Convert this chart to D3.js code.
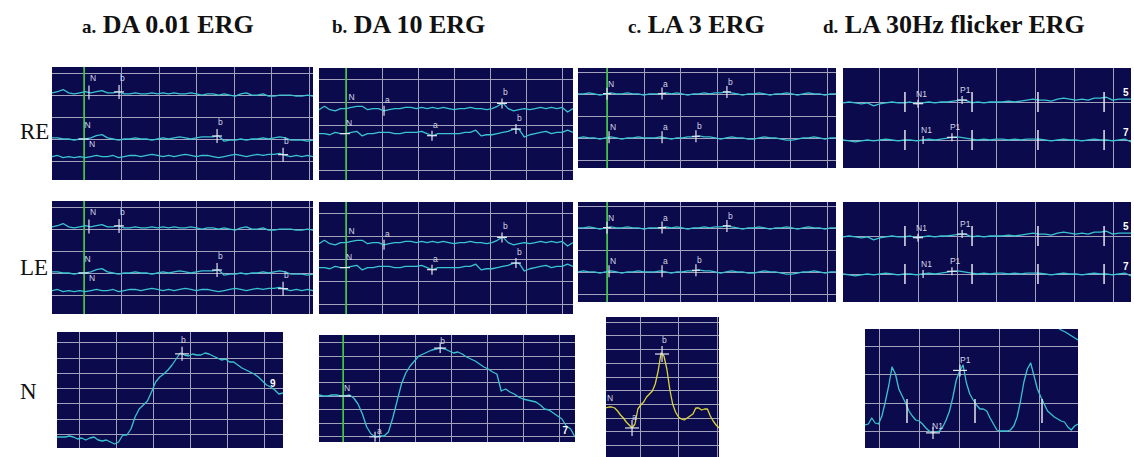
<!DOCTYPE html>
<html>
<head>
<meta charset="utf-8">
<script src="https://cdn.jsdelivr.net/npm/d3@7"></script>
<style>
  body { margin: 0; background: #fff; }
  svg { display: block; }
</style>
</head>
<body>
<svg id="fig" width="1134" height="457"></svg>
<script>
// ---------------- data ----------------
const panelTitles = [
  { tag: 'a.', name: 'DA 0.01 ERG' },
  { tag: 'b.', name: 'DA 10 ERG' },
  { tag: 'c.', name: 'LA 3 ERG' },
  { tag: 'd.', name: 'LA 30Hz flicker ERG' }
];
const rowLabels = ['RE', 'LE', 'N'];

// a. DA 0.01 ERG, three sweeps (baseline µV + deviation µV)
const daDimBase = [62, 20, 4];
const daDimTop = [0,1,3,0,-1,0,1,0,1,2,0,0,1,-1,-1,0,-1,-1,0,-1,0,-1,0,-1,-1,0,-1,-2,-1,-1,-2,-1,-2,-3,-1,0,-2,-2,-1,-3,-3,-2,-2,-2,-3,-3,-2,-3];
const daDimMid = [1,1,0,0,-1,0,0,1,3,4,1,0,-1,0,0,1,0,0,-1,0,1,0,1,2,1,0,1,2,2,2,3,-2,-1,-1,0,-1,0,0,1,0,1,2,1,-1,-1,-1,-2,-1];
const daDimLow = [0,1,-1,0,-1,0,-1,0,1,0,0,1,-1,0,1,1,0,1,2,1,0,1,0,1,2,1,0,1,1,0,-1,0,1,2,1,0,1,2,1,2,2,3,1,0,1,0,1,0];

// b. DA 10 ERG, two sweeps
const daBrightBase = [54, 32];
const daBrightTop = [-1,2,-1,-2,0,0,1,2,2,-1,0,0,-2,-1,0,0,1,1,0,1,0,1,0,1,0,-1,0,0,1,0,0,-1,0,2,5,0,-2,-1,0,-1,0,1,0,1,0,1,-3,0];
const daBrightLow = [0,0,-1,1,0,0,1,2,-2,0,0,1,1,1,0,0,1,1,1,2,0,-2,0,0,0,0,0,1,1,3,-2,-1,-1,0,1,2,4,4,-3,-1,0,1,2,0,1,1,3,1];

// c. LA 3 ERG, two sweeps
const la3Base = [60, 20];
const la3Top = [0,0,1,0,-1,0,1,0,0,1,0,0,-1,0,0,0,1,0,1,0,-1,0,0,1,0,1,1,2,1,0,-1,0,0,1,0,-1,0,0,1,0,-1,0,1,0,0,-1,0,0];
const la3Low = [0,1,0,0,-1,0,1,0,-1,0,0,1,0,0,0,1,0,-1,0,0,1,1,2,1,1,0,-1,0,1,0,0,-1,-1,0,1,0,0,-1,-2,-2,-1,0,0,1,0,-1,0,0];

// d. LA 30Hz flicker, two sweeps
const flickerBase = [40, 0];
const flickerTop = [-1,0,-1,-2,-1,-4,-2,-1,0,-1,-1,0,-2,-1,0,-1,0,0,1,2,2,-1,0,-1,0,0,0,1,0,1,2,3,2,2,1,3,4,3,2,3,2,4,4,5,2,3,3,3];
const flickerLow = [0,-1,-2,-1,0,-1,0,1,0,-1,0,0,-1,0,1,0,1,2,3,3,2,1,0,1,0,1,1,0,1,0,1,1,1,0,-1,0,1,0,0,-1,0,1,0,0,-1,0,1,-2];
const flickerStimMs = [33.3, 67.7, 101.5, 135.4];

// normal reference traces (µV)
const normDaDim = [-3,-3,-3,-2,-3,-5,-4,-6,-4,-3,-6,-7,-6,-8,-10,-8,-1,-1,5,17,25,29,33,42,52,57,60,64,69,75,81,79,78,80,79,79,81,80,78,76,74,75,72,72,69,66,64,62,60,57,53,49,47,44,40,41];
const normDaBright = [41,40,40,41,41,40,40,41,38,32,22,9,2,-1,0,0,4,18,35,52,63,70,75,80,82,84,86,87,88,87,85,83,84,82,79,77,75,72,69,67,64,62,45,47,44,42,39,37,36,35,34,31,27,26,23,20,17,10,7,-1];
const normLa3 = [37,38,38,37,34,30,27,23,20,17,21,36,40,43,48,51,54,61,74,92,89,76,56,41,33,28,26,25,27,29,31,37,37,35,36,36,29,24,20,17];
const normFlicker = [6,7,13,8,7,15,29,45,64,57,42,35,28,20,15,11,10,7,3,0,-2,-1,0,4,11,20,34,51,60,66,48,37,31,26,22,22,20,13,7,1,0,0,0,1,5,14,30,49,62,68,55,42,34,27,20,17,14,12,10,9,4,1,5,7];
const normFlickerOther = [102, 99, 95, 91];
const normFlickerStimMs = [14, 48, 81.5];

// ---------------- style ----------------
const SANS = '"Liberation Sans", Arial, sans-serif';
const SERIF = '"Liberation Serif", "Times New Roman", serif';
const NAVY = '#0a0a4c';
const GRID = '#a2a2bc';
const CYAN = '#3ac4d0';
const YELLOW = '#dcd63a';
const GREEN = '#36c636';
const MARK = '#e4e4ee';

// ---------------- panels ----------------
function smallPanels(dy) {
  return [
    { box: [52, 67 + dy, 261, 113], xDom: [-21.4, 153], xGrid: [0, 25], yDom: [-17.3, 85.5], yGrid: [0, 20],
      green: 0, mark: [5, 7], lab: [1, -11],
      traces: [
        { base: daDimBase[0], values: daDimTop },
        { base: daDimBase[1], values: daDimMid },
        { base: daDimBase[2], values: daDimLow }
      ],
      marks: [
        { tr: 0, t: 3.3, kind: 'v', label: 'N' },
        { tr: 0, t: 23.4, kind: '+', label: 'b' },
        { tr: 1, t: -0.3, kind: 'h', label: 'N' },
        { tr: 1, t: 88.9, kind: '+', label: 'b' },
        { tr: 2, t: 2.7, kind: '', label: 'N', dy: -10 },
        { tr: 2, t: 133, kind: '+', label: 'b' }
      ] },
    { box: [319, 68 + dy, 254, 112], xDom: [-18.75, 157.6], xGrid: [0, 25], yDom: [-8.8, 89.7], yGrid: [0, 20],
      green: 0, mark: [5, 5], lab: [1, -8],
      traces: [
        { base: daBrightBase[0], values: daBrightTop },
        { base: daBrightBase[1], values: daBrightLow }
      ],
      marks: [
        { tr: 0, t: 1, kind: '', label: 'N' },
        { tr: 0, t: 26.4, kind: 'v', label: 'a' },
        { tr: 0, t: 108.3, kind: '+', label: 'b' },
        { tr: 1, t: -0.7, kind: 'h', label: 'N' },
        { tr: 1, t: 59.7, kind: '+', label: 'a' },
        { tr: 1, t: 118, kind: '+', label: 'b' }
      ] },
    { box: [578, 68 + dy, 258, 100], xDom: [-19.75, 156], xGrid: [0, 25], yDom: [-7.3, 83.6], yGrid: [0, 20],
      green: 0, mark: [4, 6], lab: [1, -7],
      traces: [
        { base: la3Base[0], values: la3Top },
        { base: la3Base[1], values: la3Low }
      ],
      marks: [
        { tr: 0, t: 0, kind: '+', label: 'N' },
        { tr: 0, t: 37.5, kind: '+', label: 'a' },
        { tr: 0, t: 81.7, kind: '+', label: 'b' },
        { tr: 1, t: 1.4, kind: 'v', label: 'N' },
        { tr: 1, t: 37.5, kind: 'v', label: 'a' },
        { tr: 1, t: 60.6, kind: '+', label: 'b' }
      ] },
    { box: [843, 68 + dy, 288, 100], xDom: [1.54, 149.2], xGrid: [0, 20], yDom: [-29.5, 75.8], yGrid: [0, 40],
      green: null, mark: [5, 4], lab: [-2, -7],
      traces: [
        { base: flickerBase[0], values: flickerTop },
        { base: flickerBase[1], values: flickerLow }
      ],
      stim: flickerStimMs.flatMap(t => [{ tr: 0, t, half: 10 }, { tr: 1, t, half: 10 }]),
      marks: [
        { tr: 0, t: 40, kind: '+', label: 'N1' },
        { tr: 0, t: 62.6, kind: '+', label: 'P1' },
        { tr: 1, t: 42.6, kind: 'v', label: 'N1' },
        { tr: 1, t: 57.4, kind: '+', label: 'P1' },
        { tr: 0, t: 146.5, kind: '', label: '5', bold: true, dx: 0, dy: -3 },
        { tr: 1, t: 146.5, kind: '', label: '7', bold: true, dx: 0, dy: -3 }
      ] }
  ];
}

const normPanels = [
  { box: [57, 332, 226, 116], xDom: [-14.9, 137.8], xGrid: [0, 25], yDom: [-14, 102], yGrid: [0, 15.3],
    green: null, mark: [7, 7], lab: [-1, -11],
    traces: [{ base: 0, values: normDaDim }],
    marks: [
      { tr: 0, t: 69.6, kind: '+', label: 'b' },
      { tr: 0, t: 133, kind: '', label: '9', bold: true, dx: -3, dy: -4 }
    ] },
  { box: [319, 335, 256, 107], xDom: [-16.7, 161], xGrid: [0, 25], yDom: [-6, 101], yGrid: [0, 13.4],
    green: 0, mark: [6, 5], lab: [0, -5],
    traces: [{ base: 0, values: normDaBright }],
    marks: [
      { tr: 0, t: 1.4, kind: 'h', label: 'N', dx: -1 },
      { tr: 0, t: 22.2, kind: '+', label: 'a', dx: 2, dy: -3 },
      { tr: 0, t: 67.4, kind: '+', label: 'b', dy: -4 },
      { tr: 0, t: 157, kind: '', label: '7', bold: true, dx: -4, dy: 6 }
    ] },
  { box: [606, 317, 113, 140], xDom: [-2.2, 71.6], xGrid: [20, 25], yDom: [-12, 128], yGrid: [0, 13.7],
    green: null, mark: [7, 8], lab: [0, -8], color: YELLOW,
    traces: [{ base: 0, values: normLa3 }],
    marks: [
      { tr: 0, t: -1.5, kind: '', label: 'N', dx: 0, dy: -7 },
      { tr: 0, t: 14.8, kind: '+', label: 'a' },
      { tr: 0, t: 34.4, kind: '+', label: 'b', dy: -11 }
    ] },
  { box: [865, 329, 213, 119], xDom: [-7, 99.5], xGrid: [0, 20], yDom: [-17, 102], yGrid: [0, 28.3],
    green: null, mark: [7, 6], lab: [0, -7],
    traces: [
      { base: 0, values: normFlicker },
      { base: 0, values: normFlickerOther, span: [90, 99.5] }
    ],
    stim: normFlickerStimMs.map(t => ({ level: 20, t, half: 12 })),
    marks: [
      { tr: 0, t: 40.5, kind: '+', label: 'P1' },
      { tr: 0, t: 27, kind: '+', label: 'N1', dx: -1, dy: -4 }
    ] }
];

// ---------------- drawing ----------------
const svg = d3.select('#fig');
let clipCount = 0;

function gridVals(dom, start, step) {
  const out = [];
  const k0 = Math.ceil((dom[0] - start) / step), k1 = Math.floor((dom[1] - start) / step);
  for (let k = k0; k <= k1; k++) out.push(start + k * step);
  return out;
}

function valueAt(tr, dom, time) {
  const span = tr.span || dom, n = tr.values.length;
  const f = (time - span[0]) / (span[1] - span[0]) * (n - 1);
  const i = Math.max(0, Math.min(n - 2, Math.floor(f)));
  const r = Math.max(0, Math.min(1, f - i));
  return tr.base + tr.values[i] * (1 - r) + tr.values[i + 1] * r;
}

function drawPanel(p) {
  const [bx, by, bw, bh] = p.box;
  const x = d3.scaleLinear().domain(p.xDom).range([bx, bx + bw]);
  const y = d3.scaleLinear().domain(p.yDom).range([by + bh, by]);
  const id = 'clip' + (clipCount++);
  svg.append('clipPath').attr('id', id)
    .append('rect').attr('x', bx).attr('y', by).attr('width', bw).attr('height', bh);

  const g = svg.append('g').attr('clip-path', `url(#${id})`);
  g.append('rect').attr('x', bx).attr('y', by).attr('width', bw).attr('height', bh).attr('fill', NAVY);

  // grid
  g.selectAll('.gx').data(gridVals(p.xDom, p.xGrid[0], p.xGrid[1]))
    .join('line')
    .attr('x1', d => Math.round(x(d)) + 0.5).attr('x2', d => Math.round(x(d)) + 0.5)
    .attr('y1', by).attr('y2', by + bh)
    .attr('stroke', GRID).attr('stroke-width', 1).attr('shape-rendering', 'crispEdges');
  g.selectAll('.gy').data(gridVals(p.yDom, p.yGrid[0], p.yGrid[1]))
    .join('line')
    .attr('y1', d => Math.round(y(d)) + 0.5).attr('y2', d => Math.round(y(d)) + 0.5)
    .attr('x1', bx).attr('x2', bx + bw)
    .attr('stroke', GRID).attr('stroke-width', 1).attr('shape-rendering', 'crispEdges');

  // stimulus (flash) line
  if (p.green !== null) {
    g.append('line')
      .attr('x1', x(p.green)).attr('x2', x(p.green)).attr('y1', by).attr('y2', by + bh)
      .attr('stroke', GREEN).attr('stroke-width', 1.6);
  }

  // traces
  p.traces.forEach(tr => {
    const span = tr.span || p.xDom;
    const t = d3.scaleLinear().domain([0, tr.values.length - 1]).range(span);
    const line = d3.line().x((d, i) => x(t(i))).y(d => y(tr.base + d));
    g.append('path').datum(tr.values)
      .attr('d', line)
      .attr('fill', 'none')
      .attr('stroke', p.color || CYAN)
      .attr('stroke-width', 1.3)
      .attr('stroke-linejoin', 'round');
  });

  // flicker stimulus ticks
  (p.stim || []).forEach(s => {
    const lv = s.level !== undefined ? s.level : p.traces[s.tr].base;
    g.append('line')
      .attr('x1', x(s.t)).attr('x2', x(s.t))
      .attr('y1', y(lv) - s.half).attr('y2', y(lv) + s.half)
      .attr('stroke', MARK).attr('stroke-width', 1.5);
  });

  // cursors and labels
  p.marks.forEach(m => {
    const mx = x(m.t), my = y(valueAt(p.traces[m.tr], p.xDom, m.t));
    const [hw, hh] = p.mark;
    if (m.kind === '+' || m.kind === 'h') {
      g.append('line').attr('x1', mx - hw).attr('x2', mx + hw).attr('y1', my).attr('y2', my)
        .attr('stroke', MARK).attr('stroke-width', 1.2);
    }
    if (m.kind === '+' || m.kind === 'v') {
      g.append('line').attr('x1', mx).attr('x2', mx).attr('y1', my - hh).attr('y2', my + hh)
        .attr('stroke', MARK).attr('stroke-width', 1.2);
    }
    if (m.label) {
      g.append('text')
        .attr('x', mx + (m.dx !== undefined ? m.dx : p.lab[0]))
        .attr('y', my + (m.dy !== undefined ? m.dy : p.lab[1]))
        .attr('font-family', SANS)
        .attr('font-size', m.bold ? 10 : 8.5)
        .attr('font-weight', m.bold ? 'bold' : 'normal')
        .attr('text-anchor', m.bold ? 'middle' : 'start')
        .attr('fill', m.bold ? '#ffffff' : '#d6d6e4')
        .text(m.label);
    }
  });
}

smallPanels(0).forEach(drawPanel);
smallPanels(134).forEach(drawPanel);
normPanels.forEach(drawPanel);

// column titles
const titleX = [82, 332, 628, 823];
panelTitles.forEach((d, i) => {
  const t = svg.append('text')
    .attr('x', titleX[i]).attr('y', 33)
    .attr('font-family', SERIF).attr('font-weight', 'bold').attr('fill', '#111');
  t.append('tspan').attr('font-size', 19).text(d.tag);
  t.append('tspan').attr('font-size', 26).text(' ' + d.name);
});

// row labels
const rowY = [139, 275, 399];
rowLabels.forEach((d, i) => {
  svg.append('text')
    .attr('x', 20).attr('y', rowY[i])
    .attr('font-family', SERIF).attr('font-size', 23).attr('fill', '#111')
    .text(d);
});
</script>
</body>
</html>
